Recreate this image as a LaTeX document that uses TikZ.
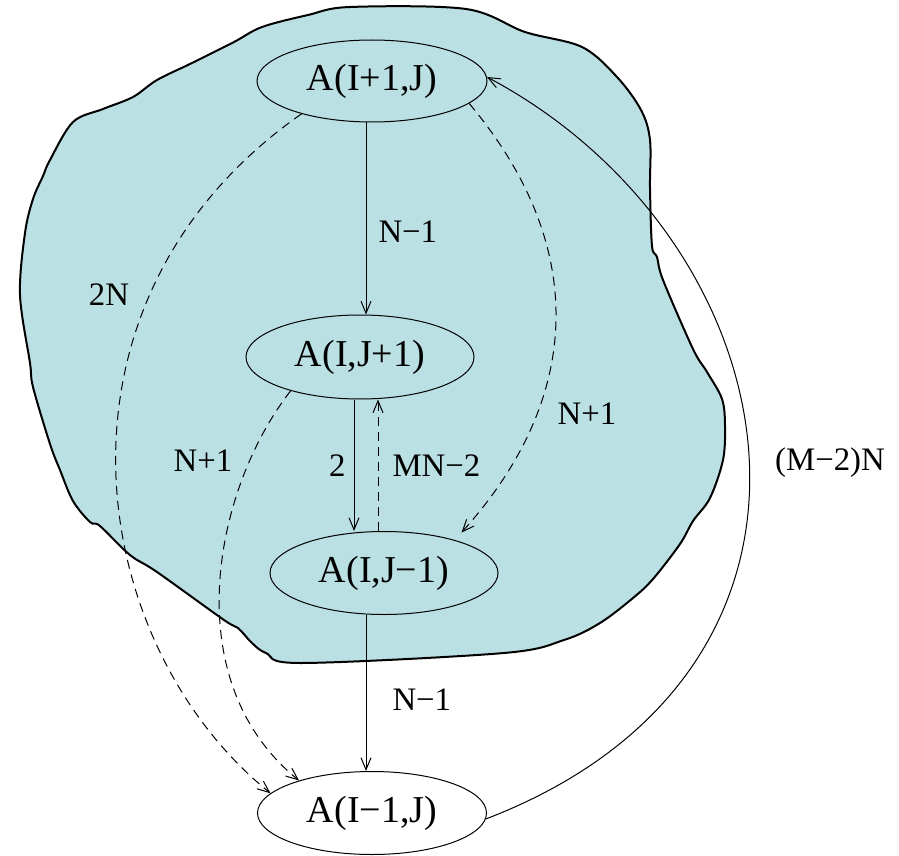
\documentclass[tikz,border=0pt]{standalone}
\usepackage{fontspec}
\setmainfont{Liberation Serif}
\usetikzlibrary{arrows.meta, shapes.geometric, calc}

\definecolor{blobfill}{RGB}{187,224,227}

\begin{document}
\begin{tikzpicture}[
    x=0.5pt, y=0.5pt,
    cell/.style={
        draw, ellipse, inner sep=0pt, line width=0.5pt,
        font=\fontsize{19}{22}\selectfont
    },
    lbl/.style={font=\fontsize{16.4}{19}\selectfont, inner sep=0pt},
    blob/.style={draw, fill=blobfill, line width=1pt},
    dep/.style={-{Straight Barb[length=6pt, width=5pt]}, line width=0.5pt},
    back/.style={dep, dash pattern=on 4.5pt off 3pt}
]
\useasboundingbox (0,0) rectangle (899,-856);

% region around the three inner elements
\draw[blob] plot[smooth cycle, tension=0.55] coordinates {
    (157,-80) (192,-63) (234,-42) (262,-27) (308,-15) (350,-7) (466,-9)
    (525,-32) (582,-47) (617,-77) (641,-110) (650,-140) (650,-188)
    (652,-246) (657,-257) (663,-280) (693,-349) (707,-372) (722,-399)
    (725,-426) (723,-460) (710,-498) (693,-521) (680,-544) (653,-579)
    (633,-598) (600,-623) (564,-640) (504,-653) (301,-663) (266,-653)
    (252,-643) (238,-628) (224,-620) (157,-572) (130,-555) (100,-526)
    (90,-522) (73,-501) (60,-470) (50,-444) (33,-387) (30,-363) (20,-295)
    (25,-233) (33,-199) (43,-176) (50,-160) (73,-122) (103,-109) (133,-97)
};

\node[cell, minimum width=115pt, minimum height=41pt] (top) at (372,-81) {A(I+1,J)};
\node[cell, minimum width=114pt, minimum height=42pt] (mid) at (360,-357) {A(I,J+1)};
\node[cell, minimum width=114pt, minimum height=41.5pt] (low) at (384,-573) {A(I,J−1)};
\node[cell, minimum width=114.5pt, minimum height=41.5pt] (bot) at (372,-813) {A(I−1,J)};

% straight dependences
\draw[dep] ([xshift=-3pt]top.south) -- node[lbl, right=6pt, pos=0.57] {N−1} ([xshift=-3pt]top.south |- mid.north);
\draw[dep] ([xshift=-3pt]mid.south) -- node[lbl, left=4pt] {2} ([xshift=-3pt]mid.south |- low.north);
\draw[back] ([xshift=-3pt]low.north) -- node[lbl, right=7pt] {MN−2} ([xshift=-3pt]low.north |- mid.south);
\draw[dep] ([xshift=-3pt]bot.north |- low.south) -- node[lbl, right=13pt, pos=0.54] {N−1} ([xshift=-3pt]bot.north);

% curved dependences
\draw[back] (top.205) to[out=215, in=141, out distance=164pt, in distance=119pt] (bot.169);
\draw[back] (mid.206) to[out=232, in=141, out distance=63pt, in distance=79pt] (bot.156);
\draw[back, shorten >=5pt] (top.-13) to[out=-50, in=48, out distance=93pt, in distance=96pt] (low.25);
\draw[dep] (bot.-3) to[out=21, in=-28, out distance=210pt, in distance=174pt] (top.2);

\node[lbl] (l2n) at (109,-295) {2N};
\node[lbl] (lnl) at (203,-461) {N+1};
\node[lbl] (lnr) at (587,-414) {N+1};
\node[lbl] (lmn) at (830,-463) {(M−2)N};

\end{tikzpicture}
\end{document}
